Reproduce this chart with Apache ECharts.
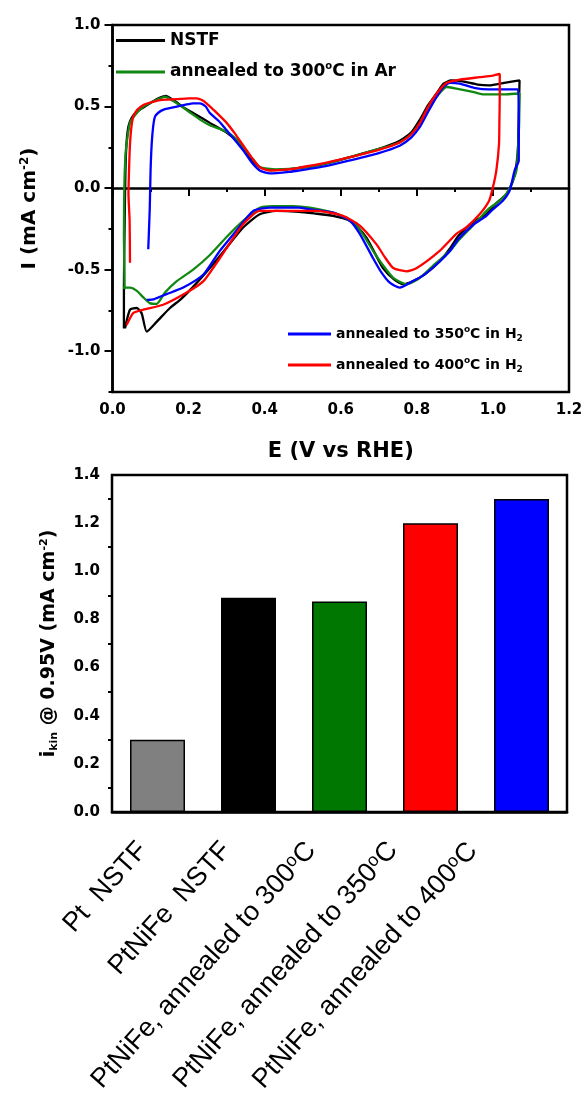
<!DOCTYPE html>
<html><head><meta charset="utf-8">
<script src="https://cdn.jsdelivr.net/npm/echarts@6/dist/echarts.min.js"></script>
<style>html,body{margin:0;padding:0;background:#fff}#c{width:587px;height:1106px}</style>
</head><body><div id="c"></div><script>
// ---------- data ----------
const cvNames = ['NSTF', 'annealed to 300°C in Ar', 'annealed to 350°C in H2', 'annealed to 400°C in H2'];
const cvNSTF = [[0.030,-0.86],[0.030,-0.60],[0.032,-0.20],[0.034,0.10],[0.037,0.28],[0.042,0.38],[0.050,0.43],[0.065,0.47],[0.085,0.50],[0.105,0.53],[0.125,0.555],[0.140,0.565],[0.160,0.54],[0.190,0.49],[0.220,0.45],[0.256,0.40],[0.300,0.34],[0.330,0.28],[0.350,0.22],[0.370,0.16],[0.390,0.125],[0.420,0.11],[0.460,0.115],[0.500,0.125],[0.560,0.15],[0.624,0.19],[0.700,0.24],[0.755,0.29],[0.785,0.34],[0.808,0.42],[0.830,0.51],[0.852,0.58],[0.870,0.64],[0.890,0.66],[0.920,0.655],[0.960,0.635],[0.990,0.63],[1.030,0.645],[1.070,0.66],[1.068,0.45],[1.066,0.25],[1.062,0.15],[1.052,0.04],[1.036,-0.035],[1.010,-0.09],[0.983,-0.16],[0.947,-0.21],[0.910,-0.29],[0.887,-0.37],[0.860,-0.45],[0.820,-0.53],[0.790,-0.57],[0.765,-0.59],[0.740,-0.56],[0.711,-0.49],[0.690,-0.40],[0.668,-0.305],[0.645,-0.24],[0.624,-0.20],[0.580,-0.17],[0.530,-0.155],[0.490,-0.145],[0.430,-0.14],[0.387,-0.16],[0.344,-0.24],[0.300,-0.365],[0.256,-0.49],[0.210,-0.61],[0.180,-0.68],[0.151,-0.735],[0.116,-0.82],[0.090,-0.88],[0.077,-0.77],[0.064,-0.735],[0.046,-0.745],[0.033,-0.86]];
const cvAr300 = [[0.032,-0.62],[0.030,-0.30],[0.031,0.0],[0.034,0.2],[0.037,0.27],[0.046,0.40],[0.060,0.45],[0.081,0.50],[0.105,0.53],[0.125,0.55],[0.138,0.56],[0.155,0.54],[0.169,0.52],[0.200,0.47],[0.230,0.42],[0.256,0.385],[0.300,0.345],[0.330,0.29],[0.344,0.25],[0.365,0.19],[0.387,0.13],[0.430,0.115],[0.500,0.125],[0.560,0.15],[0.624,0.19],[0.700,0.24],[0.755,0.28],[0.785,0.33],[0.808,0.40],[0.830,0.49],[0.852,0.56],[0.878,0.62],[0.904,0.61],[0.947,0.59],[0.973,0.575],[1.035,0.575],[1.070,0.58],[1.069,0.40],[1.066,0.25],[1.062,0.11],[1.050,0.03],[1.035,-0.036],[1.018,-0.077],[0.990,-0.125],[0.975,-0.16],[0.947,-0.23],[0.910,-0.32],[0.887,-0.385],[0.850,-0.46],[0.808,-0.55],[0.773,-0.59],[0.738,-0.55],[0.710,-0.47],[0.685,-0.385],[0.660,-0.29],[0.640,-0.23],[0.610,-0.18],[0.580,-0.15],[0.519,-0.12],[0.475,-0.11],[0.420,-0.11],[0.387,-0.12],[0.344,-0.20],[0.300,-0.30],[0.256,-0.41],[0.212,-0.50],[0.169,-0.57],[0.138,-0.64],[0.116,-0.71],[0.098,-0.705],[0.081,-0.67],[0.064,-0.63],[0.046,-0.61],[0.028,-0.61]];
const cvH2350 = [[0.094,-0.375],[0.096,-0.25],[0.098,-0.12],[0.100,0.10],[0.103,0.27],[0.107,0.38],[0.112,0.44],[0.122,0.465],[0.133,0.48],[0.150,0.49],[0.169,0.50],[0.190,0.51],[0.212,0.52],[0.230,0.52],[0.245,0.50],[0.256,0.46],[0.280,0.41],[0.300,0.355],[0.320,0.30],[0.344,0.23],[0.365,0.16],[0.387,0.108],[0.414,0.09],[0.466,0.10],[0.490,0.108],[0.560,0.135],[0.624,0.17],[0.700,0.215],[0.755,0.26],[0.785,0.31],[0.808,0.375],[0.830,0.47],[0.852,0.56],[0.870,0.62],[0.887,0.645],[0.913,0.64],[0.950,0.615],[0.990,0.605],[1.030,0.605],[1.066,0.605],[1.068,0.40],[1.068,0.17],[1.057,0.108],[1.044,-0.015],[1.026,-0.077],[1.000,-0.13],[0.983,-0.17],[0.948,-0.225],[0.910,-0.31],[0.887,-0.385],[0.860,-0.45],[0.820,-0.53],[0.790,-0.57],[0.755,-0.61],[0.729,-0.58],[0.705,-0.51],[0.685,-0.43],[0.650,-0.28],[0.624,-0.20],[0.580,-0.15],[0.519,-0.13],[0.490,-0.12],[0.414,-0.12],[0.370,-0.14],[0.326,-0.26],[0.282,-0.385],[0.239,-0.53],[0.186,-0.61],[0.142,-0.65],[0.110,-0.68],[0.090,-0.685]];
const cvH2400 = [[0.046,-0.458],[0.045,-0.20],[0.042,-0.036],[0.044,0.15],[0.046,0.27],[0.050,0.38],[0.055,0.44],[0.065,0.48],[0.081,0.51],[0.100,0.525],[0.125,0.54],[0.169,0.545],[0.200,0.55],[0.221,0.55],[0.235,0.54],[0.247,0.52],[0.270,0.47],[0.300,0.40],[0.320,0.34],[0.344,0.26],[0.365,0.19],[0.387,0.128],[0.414,0.108],[0.475,0.118],[0.490,0.125],[0.560,0.155],[0.624,0.19],[0.700,0.235],[0.755,0.28],[0.785,0.33],[0.808,0.40],[0.830,0.50],[0.852,0.58],[0.878,0.645],[0.913,0.665],[0.965,0.68],[1.000,0.69],[1.018,0.70],[1.018,0.58],[1.017,0.40],[1.016,0.27],[1.009,0.108],[1.000,0.005],[0.990,-0.077],[0.965,-0.16],[0.930,-0.24],[0.904,-0.28],[0.860,-0.385],[0.800,-0.49],[0.773,-0.51],[0.738,-0.49],[0.715,-0.42],[0.694,-0.345],[0.650,-0.23],[0.606,-0.17],[0.536,-0.14],[0.490,-0.14],[0.387,-0.14],[0.344,-0.22],[0.282,-0.43],[0.239,-0.57],[0.195,-0.64],[0.133,-0.715],[0.081,-0.745],[0.055,-0.765],[0.037,-0.84]];
const cvYLabelValues = [-1.0, -0.5, 0.0, 0.5, 1.0];

const barCategories = ['Pt  NSTF', 'PtNiFe  NSTF', 'PtNiFe, annealed to 300°C', 'PtNiFe, annealed to 350°C', 'PtNiFe, annealed to 400°C'];
const barValues = [0.30, 0.89, 0.875, 1.20, 1.30];

// ---------- styles ----------
const cvColors = ['#000000', '#118811', '#0000ff', '#ff0000'];
const barColors = ['#808080', '#000000', '#007700', '#ff0000', '#0000ff'];
// per-label shift of the rotated category labels (bottom padding, right padding)
const labelShiftQ = [22, 33, 42, 56, 72];
const labelShiftP = [10, 15, 19, 25, 33];
const FF = 'DejaVu Sans';

function supFmt(s, base) {
  let out = '';
  const parts = s.split('°');
  out += '{' + base + '|' + parts[0] + '}';
  if (parts.length > 1) {
    out += '{' + base + 's|o}';
    const rest = parts[1];
    if (/H2$/.test(rest)) {
      out += '{' + base + '|' + rest.slice(0, -1) + '}{' + base + 'b|2}';
    } else {
      out += '{' + base + '|' + rest + '}';
    }
  }
  return out;
}

const richLegend = {
  a: {fontFamily: FF, fontWeight: 'bold', fontSize: 17, color: '#000', lineHeight: 22},
  as: {fontFamily: FF, fontWeight: 'bold', fontSize: 10, color: '#000', lineHeight: 22, verticalAlign: 'top', padding: [0, 0, 10, 0]},
  ab: {fontFamily: FF, fontWeight: 'bold', fontSize: 10, color: '#000', lineHeight: 22, padding: [8, 0, 0, 0]},
  c: {fontFamily: FF, fontWeight: 'bold', fontSize: 14, color: '#000', lineHeight: 20},
  cs: {fontFamily: FF, fontWeight: 'bold', fontSize: 9, color: '#000', lineHeight: 20, padding: [0, 0, 9, 0]},
  cb: {fontFamily: FF, fontWeight: 'bold', fontSize: 9, color: '#000', lineHeight: 20, padding: [9, 0, 0, 0]}
};

const catRich = {};
barCategories.forEach((c, i) => {
  const q = labelShiftQ[i], p = labelShiftP[i];
  catRich['x' + i] = {fontFamily: 'Liberation Sans', fontSize: 27, color: '#000', padding: [0, 0, q, 0]};
  catRich['x' + i + 's'] = {fontFamily: 'Liberation Sans', fontSize: 18, color: '#000', padding: [0, 0, q + 9, 0]};
  catRich['x' + i + 'e'] = {fontFamily: 'Liberation Sans', fontSize: 27, color: '#000', padding: [0, p, q, 0]};
});
function catFmt(v, i) {
  const parts = v.split('°');
  if (parts.length > 1) {
    return '{x' + i + '|' + parts[0] + '}{x' + i + 's|o}{x' + i + 'e|' + parts[1] + '}';
  }
  return '{x' + i + 'e|' + v + '}';
}

const axisLineStyle = {color: '#000', width: 2.5};
const tickLabel = {fontFamily: FF, fontWeight: 'bold', fontSize: 15, color: '#000'};

const chart = echarts.init(document.getElementById('c'), null, {renderer: 'canvas'});

const option = {
  backgroundColor: '#fff',
  animation: false,
  grid: [
    {left: 112.5, top: 25, width: 456.5, height: 367, show: true, borderColor: '#000', borderWidth: 2.5, backgroundColor: 'transparent'},
    {left: 112, top: 475, width: 455, height: 337, show: true, borderColor: '#000', borderWidth: 2.5, backgroundColor: 'transparent'}
  ],
  legend: [
    {
      data: [cvNames[0], cvNames[1]], orient: 'vertical', left: 116, top: 32, padding: 0,
      icon: 'rect', itemWidth: 49, itemHeight: 3, itemGap: 12,
      formatter: n => supFmt(n, 'a'),
      textStyle: {rich: richLegend}
    },
    {
      data: [cvNames[2], cvNames[3]], orient: 'vertical', left: 288, top: 325, padding: 0,
      icon: 'rect', itemWidth: 43, itemHeight: 3, itemGap: 13,
      formatter: n => supFmt(n, 'c'),
      textStyle: {rich: richLegend}
    }
  ],
  xAxis: [
    {
      gridIndex: 0, type: 'value', min: 0, max: 1.2, interval: 0.2,
      axisLine: {lineStyle: axisLineStyle},
      axisTick: {length: 8, lineStyle: {color: '#000', width: 2}},
      minorTick: {show: true, splitNumber: 2, length: 4, lineStyle: {color: '#000', width: 2}},
      splitLine: {show: false},
      axisLabel: Object.assign({margin: 11, formatter: v => v.toFixed(1)}, tickLabel),
      name: 'E (V vs RHE)', nameLocation: 'middle', nameGap: 49,
      nameTextStyle: {fontFamily: FF, fontWeight: 'bold', fontSize: 21, color: '#000'}
    },
    {
      gridIndex: 1, type: 'category', data: barCategories,
      axisLine: {lineStyle: axisLineStyle},
      axisTick: {show: false},
      axisLabel: {interval: 0, rotate: 48, margin: 34, formatter: catFmt, rich: catRich}
    }
  ],
  yAxis: [
    {
      gridIndex: 0, type: 'value', min: -1.25, max: 1.0, interval: 0.25, position: 'left',
      axisLine: {lineStyle: axisLineStyle},
      axisTick: {length: 8, customValues: cvYLabelValues, lineStyle: {color: '#000', width: 2}},
      splitLine: {show: false},
      axisLabel: Object.assign({margin: 12, customValues: cvYLabelValues, formatter: v => v.toFixed(1)}, tickLabel),
      name: '{t|I (mA cm}{s|-2}{t|)}', nameLocation: 'middle', nameGap: 72, nameRotate: 90,
      nameTextStyle: {rich: {
        t: {fontFamily: FF, fontWeight: 'bold', fontSize: 20, color: '#000'},
        s: {fontFamily: FF, fontWeight: 'bold', fontSize: 12, color: '#000', padding: [0, 0, 10, 0]}
      }}
    },
    {
      gridIndex: 0, type: 'value', min: -1.25, max: 1.0, interval: 0.25, position: 'left', offset: 0,
      axisLine: {show: false},
      axisTick: {length: 4, lineStyle: {color: '#000', width: 2}},
      axisLabel: {show: false},
      splitLine: {show: false}
    },
    {
      gridIndex: 1, type: 'value', min: 0, max: 1.4, interval: 0.2, position: 'left',
      axisLine: {lineStyle: axisLineStyle},
      axisTick: {length: 7, lineStyle: {color: '#000', width: 2}},
      minorTick: {show: true, splitNumber: 2, length: 4, lineStyle: {color: '#000', width: 2}},
      splitLine: {show: false},
      axisLabel: Object.assign({margin: 12, formatter: v => v.toFixed(1)}, tickLabel),
      name: '{t|i}{b|kin}{t| @ 0.95V (mA cm}{s|-2}{t|)}', nameLocation: 'middle', nameGap: 52, nameRotate: 90,
      nameTextStyle: {rich: {
        t: {fontFamily: FF, fontWeight: 'bold', fontSize: 19, color: '#000'},
        b: {fontFamily: FF, fontWeight: 'bold', fontSize: 11, color: '#000', padding: [10, 0, 0, 0]},
        s: {fontFamily: FF, fontWeight: 'bold', fontSize: 11, color: '#000', padding: [0, 0, 10, 0]}
      }}
    }
  ],
  series: [
    ...[cvNSTF, cvAr300, cvH2350, cvH2400].map((d, i) => ({
      name: cvNames[i], type: 'line', xAxisIndex: 0, yAxisIndex: 0,
      data: d, symbol: 'none', smooth: 0.2,
      lineStyle: {color: cvColors[i], width: 2.3},
      itemStyle: {color: cvColors[i]}
    })),
    {
      type: 'bar', xAxisIndex: 1, yAxisIndex: 2, barWidth: 55,
      data: barValues.map((v, i) => ({value: v, itemStyle: {color: barColors[i]}})),
      itemStyle: {borderColor: '#000', borderWidth: 1.5}
    }
  ]
};
chart.setOption(option);
</script></body></html>
